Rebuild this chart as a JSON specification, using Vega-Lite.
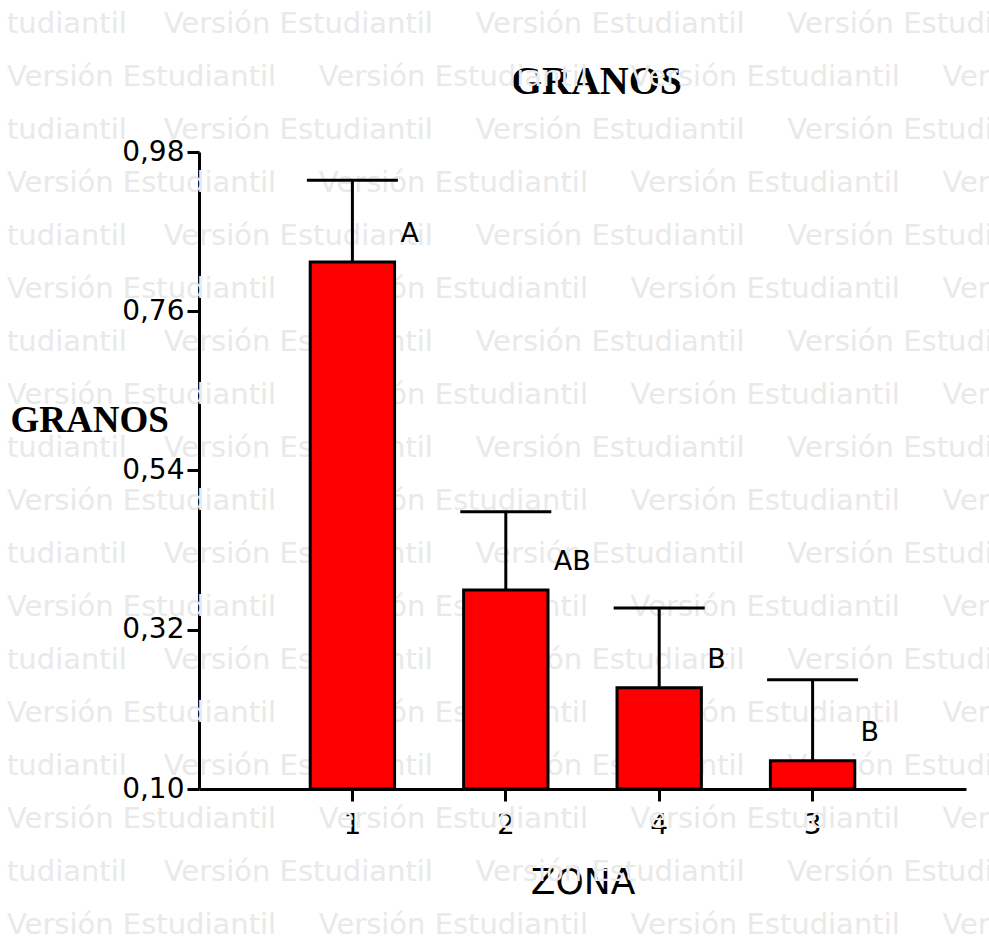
{
  "$schema": "https://vega.github.io/schema/vega-lite/v6.json",
  "width": 767,
  "height": 637,
  "autosize": {"type": "none"},
  "padding": {"left": 199, "top": 152, "right": 23, "bottom": 155},
  "background": "white",
  "config": {
    "view": {"stroke": null},
    "axis": {
      "zindex": 1,
      "domainColor": "#000",
      "domainWidth": 3,
      "tickColor": "#000",
      "tickWidth": 3,
      "tickSize": 12,
      "labelFont": "DejaVu Sans",
      "labelFontSize": 28,
      "labelColor": "#000",
      "grid": false,
      "titleColor": "#000"
    }
  },
  "datasets": {
    "marca": [
      {"linea": 1, "texto": "tudiantil\u00a0\u00a0\u00a0\u00a0Versión Estudiantil\u00a0\u00a0\u00a0\u00a0\u2009Versión Estudiantil\u00a0\u00a0\u00a0\u00a0\u2009Versión Estudiantil\u00a0\u00a0\u00a0\u00a0\u2009Versión Estudiantil"},
      {"linea": 2, "texto": "Versión Estudiantil\u00a0\u00a0\u00a0\u00a0\u2009Versión Estudiantil\u00a0\u00a0\u00a0\u00a0\u2009Versión Estudiantil\u00a0\u00a0\u00a0\u00a0\u2009Versión Estudiantil"},
      {"linea": 3, "texto": "tudiantil\u00a0\u00a0\u00a0\u00a0Versión Estudiantil\u00a0\u00a0\u00a0\u00a0\u2009Versión Estudiantil\u00a0\u00a0\u00a0\u00a0\u2009Versión Estudiantil\u00a0\u00a0\u00a0\u00a0\u2009Versión Estudiantil"},
      {"linea": 4, "texto": "Versión Estudiantil\u00a0\u00a0\u00a0\u00a0\u2009Versión Estudiantil\u00a0\u00a0\u00a0\u00a0\u2009Versión Estudiantil\u00a0\u00a0\u00a0\u00a0\u2009Versión Estudiantil"},
      {"linea": 5, "texto": "tudiantil\u00a0\u00a0\u00a0\u00a0Versión Estudiantil\u00a0\u00a0\u00a0\u00a0\u2009Versión Estudiantil\u00a0\u00a0\u00a0\u00a0\u2009Versión Estudiantil\u00a0\u00a0\u00a0\u00a0\u2009Versión Estudiantil"},
      {"linea": 6, "texto": "Versión Estudiantil\u00a0\u00a0\u00a0\u00a0\u2009Versión Estudiantil\u00a0\u00a0\u00a0\u00a0\u2009Versión Estudiantil\u00a0\u00a0\u00a0\u00a0\u2009Versión Estudiantil"},
      {"linea": 7, "texto": "tudiantil\u00a0\u00a0\u00a0\u00a0Versión Estudiantil\u00a0\u00a0\u00a0\u00a0\u2009Versión Estudiantil\u00a0\u00a0\u00a0\u00a0\u2009Versión Estudiantil\u00a0\u00a0\u00a0\u00a0\u2009Versión Estudiantil"},
      {"linea": 8, "texto": "Versión Estudiantil\u00a0\u00a0\u00a0\u00a0\u2009Versión Estudiantil\u00a0\u00a0\u00a0\u00a0\u2009Versión Estudiantil\u00a0\u00a0\u00a0\u00a0\u2009Versión Estudiantil"},
      {"linea": 9, "texto": "tudiantil\u00a0\u00a0\u00a0\u00a0Versión Estudiantil\u00a0\u00a0\u00a0\u00a0\u2009Versión Estudiantil\u00a0\u00a0\u00a0\u00a0\u2009Versión Estudiantil\u00a0\u00a0\u00a0\u00a0\u2009Versión Estudiantil"},
      {"linea": 10, "texto": "Versión Estudiantil\u00a0\u00a0\u00a0\u00a0\u2009Versión Estudiantil\u00a0\u00a0\u00a0\u00a0\u2009Versión Estudiantil\u00a0\u00a0\u00a0\u00a0\u2009Versión Estudiantil"},
      {"linea": 11, "texto": "tudiantil\u00a0\u00a0\u00a0\u00a0Versión Estudiantil\u00a0\u00a0\u00a0\u00a0\u2009Versión Estudiantil\u00a0\u00a0\u00a0\u00a0\u2009Versión Estudiantil\u00a0\u00a0\u00a0\u00a0\u2009Versión Estudiantil"},
      {"linea": 12, "texto": "Versión Estudiantil\u00a0\u00a0\u00a0\u00a0\u2009Versión Estudiantil\u00a0\u00a0\u00a0\u00a0\u2009Versión Estudiantil\u00a0\u00a0\u00a0\u00a0\u2009Versión Estudiantil"},
      {"linea": 13, "texto": "tudiantil\u00a0\u00a0\u00a0\u00a0Versión Estudiantil\u00a0\u00a0\u00a0\u00a0\u2009Versión Estudiantil\u00a0\u00a0\u00a0\u00a0\u2009Versión Estudiantil\u00a0\u00a0\u00a0\u00a0\u2009Versión Estudiantil"},
      {"linea": 14, "texto": "Versión Estudiantil\u00a0\u00a0\u00a0\u00a0\u2009Versión Estudiantil\u00a0\u00a0\u00a0\u00a0\u2009Versión Estudiantil\u00a0\u00a0\u00a0\u00a0\u2009Versión Estudiantil"},
      {"linea": 15, "texto": "tudiantil\u00a0\u00a0\u00a0\u00a0Versión Estudiantil\u00a0\u00a0\u00a0\u00a0\u2009Versión Estudiantil\u00a0\u00a0\u00a0\u00a0\u2009Versión Estudiantil\u00a0\u00a0\u00a0\u00a0\u2009Versión Estudiantil"},
      {"linea": 16, "texto": "Versión Estudiantil\u00a0\u00a0\u00a0\u00a0\u2009Versión Estudiantil\u00a0\u00a0\u00a0\u00a0\u2009Versión Estudiantil\u00a0\u00a0\u00a0\u00a0\u2009Versión Estudiantil"},
      {"linea": 17, "texto": "tudiantil\u00a0\u00a0\u00a0\u00a0Versión Estudiantil\u00a0\u00a0\u00a0\u00a0\u2009Versión Estudiantil\u00a0\u00a0\u00a0\u00a0\u2009Versión Estudiantil\u00a0\u00a0\u00a0\u00a0\u2009Versión Estudiantil"},
      {"linea": 18, "texto": "Versión Estudiantil\u00a0\u00a0\u00a0\u00a0\u2009Versión Estudiantil\u00a0\u00a0\u00a0\u00a0\u2009Versión Estudiantil\u00a0\u00a0\u00a0\u00a0\u2009Versión Estudiantil"}
    ],
    "granos": [
      {"zona": "1", "media": 0.828, "superior": 0.941, "letra": "A"},
      {"zona": "2", "media": 0.375, "superior": 0.483, "letra": "AB"},
      {"zona": "4", "media": 0.240, "superior": 0.350, "letra": "B"},
      {"zona": "3", "media": 0.139, "superior": 0.251, "letra": "B"}
    ]
  },
  "resolve": {"scale": {"x": "independent", "y": "independent"}, "axis": {"x": "independent", "y": "independent"}},
  "layer": [
    {
      "data": {"name": "marca"},
      "mark": {"type": "text", "align": "left", "baseline": "middle", "font": "DejaVu Sans", "fontSize": 29, "color": "#e9e9e9"},
      "encoding": {
        "y": {"field": "linea", "type": "quantitative", "scale": {"domain": [1, 18], "range": [-128, 773], "zero": false, "nice": false}, "axis": null},
        "x": {
          "datum": 0,
          "type": "quantitative",
          "scale": {"domain": [0, 1], "range": [-192, 575], "zero": false, "nice": false},
          "axis": {"orient": "top", "title": "GRANOS", "domain": false, "ticks": false, "labels": false, "titleX": 397, "titleY": -59, "titleAlign": "center", "titleBaseline": "alphabetic", "titleFont": "Liberation Serif", "titleFontSize": 40, "titleFontWeight": "bold", "titleColor": "#000"}
        },
        "text": {"field": "texto"}
      }
    },
    {
      "data": {"name": "granos"},
      "encoding": {
        "x": {
          "field": "zona",
          "type": "nominal",
          "sort": ["1", "2", "4", "3"],
          "scale": {"paddingInner": 0.45, "paddingOuter": 0.725},
          "axis": {"title": "ZONA", "labelAngle": 0, "labelBaseline": "middle", "labelPadding": 24, "titleFont": "DejaVu Sans", "titleFontSize": 36, "titleFontWeight": "normal", "titleBaseline": "middle", "titleY": 93}
        },
        "y": {
          "field": "media",
          "type": "quantitative",
          "title": "GRANOS",
          "scale": {"domain": [0.1, 0.98], "zero": false, "nice": false},
          "axis": {"values": [0.1, 0.32, 0.54, 0.76, 0.98], "labelExpr": "replace(format(datum.value, '.2f'), '.', ',')", "labelPadding": 3, "titleAngle": 0, "titleAlign": "left", "titleBaseline": "middle", "titleX": -189, "titleY": 268, "titleFont": "Liberation Serif", "titleFontSize": 37, "titleFontWeight": "bold"}
        }
      },
      "layer": [
        {
          "mark": {"type": "rule", "color": "#000", "strokeWidth": 3},
          "encoding": {"y2": {"field": "superior"}}
        },
        {
          "mark": {"type": "tick", "orient": "horizontal", "color": "#000", "opacity": 1, "thickness": 3, "size": 91},
          "encoding": {
            "y": {
              "field": "superior",
              "type": "quantitative",
              "title": "GRANOS",
              "axis": {"values": [0.1, 0.32, 0.54, 0.76, 0.98], "labelExpr": "replace(format(datum.value, '.2f'), '.', ',')", "labelPadding": 3, "titleAngle": 0, "titleAlign": "left", "titleBaseline": "middle", "titleX": -189, "titleY": 268, "titleFont": "Liberation Serif", "titleFontSize": 37, "titleFontWeight": "bold"}
            }
          }
        },
        {
          "mark": {"type": "bar", "fill": "#ff0000", "stroke": "#000", "strokeWidth": 3},
          "encoding": {"y2": {"datum": 0.1}}
        },
        {
          "mark": {"type": "text", "align": "left", "baseline": "middle", "dx": 48, "dy": -28, "font": "DejaVu Sans", "fontSize": 27, "color": "#000"},
          "encoding": {"text": {"field": "letra"}}
        }
      ]
    }
  ]
}
